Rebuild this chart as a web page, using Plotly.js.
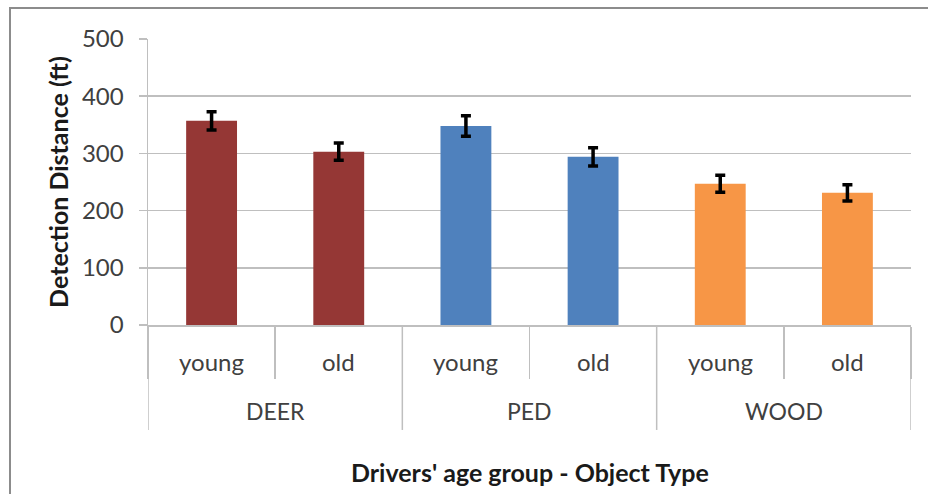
<!DOCTYPE html>
<html>
<head>
<meta charset="utf-8">
<script src="https://cdn.plot.ly/plotly-3.0.1.min.js"></script>
<style>
html,body{margin:0;padding:0;width:928px;height:494px;overflow:hidden;background:#fff;}
#frame{position:absolute;left:9px;top:7px;width:960px;height:520px;border:2px solid #8c8c8c;box-sizing:border-box;}
#chart{position:absolute;left:0;top:0;width:928px;height:494px;}
</style>
</head>
<body>
<div id="frame"></div>
<div id="chart"></div>
<script>
const objectTypes = ["DEER", "DEER", "PED", "PED", "WOOD", "WOOD"];
const ageGroups = ["young", "old", "young", "old", "young", "old"];
const distances = [357, 303, 348, 294, 247, 231];
const errors = [16, 15, 18, 16, 15, 14];
const barColors = ["#953735", "#953735", "#4F81BD", "#4F81BD", "#F79646", "#F79646"];
const yTicks = [0, 100, 200, 300, 400, 500];
const xTitle = "Drivers' age group - Object Type";
const yTitle = "Detection Distance (ft)";

const font = "Lato, 'Open Sans', sans-serif";
const n = ageGroups.length;
const xIdx = ageGroups.map((_, i) => i);
const boundaries = Array.from({length: n + 1}, (_, i) => i - 0.5);

// group boundaries (where object type changes, plus both ends)
const groupEdges = [-0.5];
const groupCenters = [];
let start = 0;
for (let i = 1; i <= n; i++) {
  if (i === n || objectTypes[i] !== objectTypes[i - 1]) {
    groupEdges.push(i - 0.5);
    groupCenters.push({name: objectTypes[start], x: (start + i - 1) / 2});
    start = i;
  }
}

const gray = "#bfbfbf";
const labelColor = "#404040";

const trace = {
  type: "bar",
  x: xIdx,
  y: distances,
  marker: {color: barColors},
  width: 0.4,
  error_y: {type: "data", array: errors, visible: true, color: "#000", thickness: 3.5, width: 5},
  hoverinfo: "none"
};

const annotations = [];
ageGroups.forEach((a, i) => annotations.push({
  x: i, xref: "x", y: -0.129, yref: "paper", yanchor: "middle", xanchor: "center",
  text: a, showarrow: false, font: {family: font, size: 24, color: labelColor}
}));
groupCenters.forEach(g => annotations.push({
  x: g.x, xref: "x", y: -0.301, yref: "paper", yanchor: "middle", xanchor: "center",
  text: g.name, showarrow: false, font: {family: font, size: 23, color: labelColor}
}));
annotations.push({
  x: 0.5, xref: "paper", y: -0.514, yref: "paper", yanchor: "middle", xanchor: "center",
  text: "<b>" + xTitle + "</b>", showarrow: false, font: {family: font, size: 25, color: "#1a1a1a"}
});

const shapes = groupEdges.map(e => ({
  type: "line", xref: "x", yref: "paper", x0: e, x1: e, y0: 0, y1: -0.367,
  line: {color: gray, width: 1.5}
}));

const layout = {
  width: 928, height: 494,
  margin: {l: 148, r: 17, t: 39, b: 169},
  paper_bgcolor: "rgba(0,0,0,0)",
  plot_bgcolor: "rgba(0,0,0,0)",
  showlegend: false,
  font: {family: font, color: labelColor, size: 23},
  xaxis: {
    type: "linear",
    range: [-0.5, n - 0.5],
    tickvals: boundaries,
    showticklabels: false,
    showgrid: false, zeroline: false,
    showline: true, linecolor: gray, linewidth: 1.5,
    ticks: "outside", ticklen: 52, tickcolor: gray, tickwidth: 1.5,
    automargin: false
  },
  yaxis: {
    range: [0, 500],
    tickvals: yTicks,
    ticktext: yTicks.map(String),
    showgrid: true, gridcolor: gray, gridwidth: 1.5,
    showline: true, linecolor: gray, linewidth: 1.5,
    ticks: "outside", ticklen: 8, tickcolor: gray, tickwidth: 1.5,
    ticklabelstandoff: 10,
    zeroline: false,
    tickfont: {family: font, size: 24, color: labelColor},
    title: {text: "<b>" + yTitle + "</b>", font: {family: font, size: 25, color: "#1a1a1a"}, standoff: 6},
    automargin: false
  },
  annotations: annotations,
  shapes: shapes
};

Plotly.newPlot("chart", [trace], layout, {staticPlot: true, displayModeBar: false});
</script>
</body>
</html>
